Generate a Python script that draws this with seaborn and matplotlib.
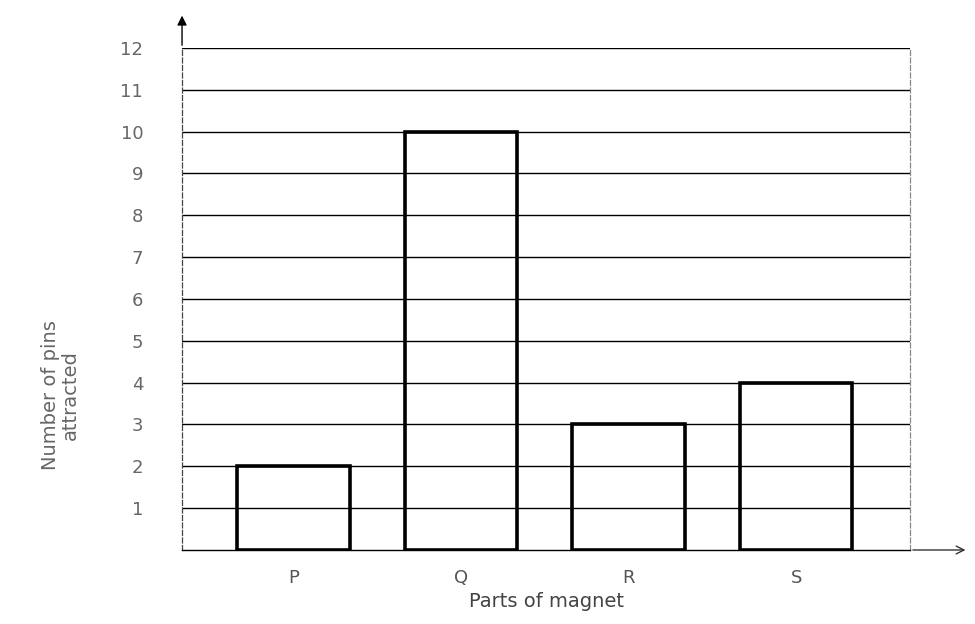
import matplotlib
matplotlib.use('Agg')
import matplotlib.pyplot as plt
import seaborn as sns
import pandas as pd

# values
parts = ['P', 'Q', 'R', 'S']
pins = [2, 10, 3, 4]
y_ticks = list(range(1, 13))

df = pd.DataFrame({'part': parts, 'pins': pins})

sns.set_theme(style='white')
plt.rcParams['font.family'] = ['DejaVu Sans']

fig = plt.figure(figsize=(9.75, 6.24), dpi=100)
ax = fig.add_axes([0.1867, 0.1186, 0.7467, 0.8045])

# horizontal ruled lines at each whole number
for v in y_ticks:
    ax.axhline(v, color='black', lw=1.0, zorder=1)

sns.barplot(data=df, x='part', y='pins', width=0.67, ax=ax, zorder=2)
for p in ax.patches:
    p.set_facecolor('none')
    p.set_edgecolor('black')
    p.set_linewidth(2.6)

ax.set_xlim(-0.665, 3.68)
ax.set_ylim(0, 12)
ax.set_yticks(y_ticks)
ax.set_yticklabels([str(v) for v in y_ticks], color='#666666', fontsize=13)
ax.tick_params(axis='y', length=0, pad=28)
ax.tick_params(axis='x', length=0, pad=14, labelsize=13, labelcolor='#555555')

ax.spines['top'].set_visible(False)
ax.spines['left'].set_linestyle((0, (4, 2)))
ax.spines['left'].set_linewidth(0.9)
ax.spines['left'].set_color('#444444')
ax.spines['right'].set_linestyle((0, (4, 2)))
ax.spines['right'].set_linewidth(0.9)
ax.spines['right'].set_color('#888888')
ax.spines['bottom'].set_linewidth(1.0)
ax.spines['bottom'].set_color('black')

# axis arrows
ax.annotate('', xy=(0, 1.07), xytext=(0, 1.0), xycoords='axes fraction',
            arrowprops=dict(arrowstyle='-|>', color='black', lw=1, mutation_scale=14),
            annotation_clip=False)
ax.annotate('', xy=(1.08, 0), xytext=(1.0, 0), xycoords='axes fraction',
            arrowprops=dict(arrowstyle='->', color='#333333', lw=1, mutation_scale=14),
            annotation_clip=False)

ax.set_xlabel('Parts of magnet', fontsize=14, color='#444444', labelpad=3)
ax.set_ylabel('')
fig.text(0.062, 0.367, 'Number of pins\nattracted', rotation=90, ha='center', va='center',
         fontsize=14, color='#666666', linespacing=1.0, multialignment='center')

fig.savefig('out.png', dpi=100)
